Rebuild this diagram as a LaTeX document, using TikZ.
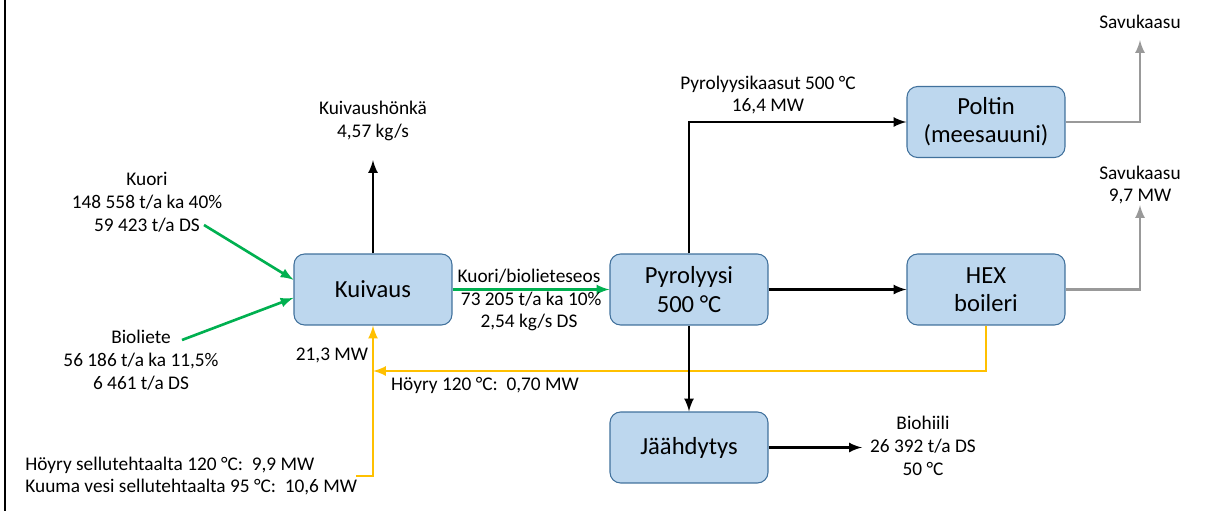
\documentclass[tikz,border=0pt]{standalone}
\usepackage{fontspec}
\setmainfont{Carlito}
\usetikzlibrary{arrows,positioning}

\definecolor{laatikko}{HTML}{BDD7EE}
\definecolor{reuna}{HTML}{41719C}
\definecolor{vihrea}{HTML}{00B050}
\definecolor{keltainen}{HTML}{FFC000}
\definecolor{harmaa}{HTML}{999999}

\tikzset{
  prosessi/.style={rectangle, rounded corners=6pt, draw=reuna, fill=laatikko, line width=0.6pt,
    minimum width=3.16cm, minimum height=1.42cm, align=center, font=\fontsize{14}{16}\selectfont},
  teksti/.style={align=center, inner sep=0pt, font=\fontsize{11}{13}\selectfont},
  virta/.style={line width=1.5pt, -latex},
  massa/.style={virta, draw=vihrea},
  lampo/.style={virta, draw=keltainen},
  savu/.style={virta, draw=harmaa}
}

\begin{document}
\begin{tikzpicture}[x=0.02cm, y=-0.02cm]
    \useasboundingbox (0,0) rectangle (1215,511);
    \draw[line width=1.2pt] (5,0) -- (5,511);

    % prosessit
    \node[prosessi] (kuivaus) at (373,289.5) {Kuivaus};
    \node[prosessi] (pyrolyysi) at (689,289.5) {Pyrolyysi\\500 °C};
    \node[prosessi] (poltin) at (986,122) {Poltin\\(meesauuni)};
    \node[prosessi] (hex) at (986,289.5) {HEX\\boileri};
    \node[prosessi] (jaahdytys) at (689,447.5) {Jäähdytys};

    % syotot
    \node[teksti] (kuori) at (147,202) {Kuori\\148 558 t/a ka 40\%\\59 423 t/a DS};
    \node[teksti] (bioliete) at (141,360) {Bioliete\\56 186 t/a ka 11,5\%\\6 461 t/a DS};
    \coordinate (kuorista) at (204,225);
    \coordinate (lietteesta) at (182,340);
    \draw[massa] (kuorista) -- (kuivaus.173);
    \draw[massa] (lietteesta) -- (kuivaus.186);

    \node[teksti] (honka) at (373,121) {Kuivaushönkä\\4,57 kg/s};
    \coordinate (honkaan) at (373,160);
    \draw[virta] (kuivaus.north) -- (honkaan);

    \draw[massa] (kuivaus.east) -- (pyrolyysi.west);
    \node[teksti] (seos) at (529,300) {Kuori/biolieteseos\\\ 73 205 t/a ka 10\%\\2,54 kg/s DS};

    % lampo
    \node[teksti, align=left, anchor=west] (sellu) at (25,476)
        {Höyry sellutehtaalta 120 °C:\ \ 9,9 MW\\Kuuma vesi sellutehtaalta 95 °C:\ \ 10,6 MW};
    \coordinate (sellusta) at (356,476);
    \coordinate (yhtyma) at (373,371);
    \draw[lampo] (sellusta) -| (kuivaus.south);
    \draw[lampo] (hex.south) |- (yhtyma);
    \node[teksti] (teho) at (332,355) {21,3 MW};
    \node[teksti] (hoyry) at (485,385) {Höyry 120 °C:\ \ 0,70 MW};

    % pyrolyysin tuotteet
    \draw[virta] (pyrolyysi.north) |- (poltin.west);
    \node[teksti] (kaasut) at (768,95) {Pyrolyysikaasut 500 °C\\16,4 MW};
    \draw[virta] (pyrolyysi.east) -- (hex.west);
    \draw[virta] (pyrolyysi.south) -- (jaahdytys.north);

    \node[teksti] (biohiili) at (923,446) {Biohiili\\26 392 t/a DS\\50 °C};
    \coordinate (hiili) at (862,447.5);
    \draw[virta] (jaahdytys.east) -- (hiili);

    % savukaasut
    \node[teksti] (savu1) at (1140,22) {Savukaasu};
    \node[teksti] (savu2) at (1140,185) {Savukaasu\\9,7 MW};
    \coordinate (savuun1) at (1140,40);
    \coordinate (savuun2) at (1140,205);
    \draw[savu] (poltin.east) -| (savuun1);
    \draw[savu] (hex.east) -| (savuun2);
\end{tikzpicture}
\end{document}
